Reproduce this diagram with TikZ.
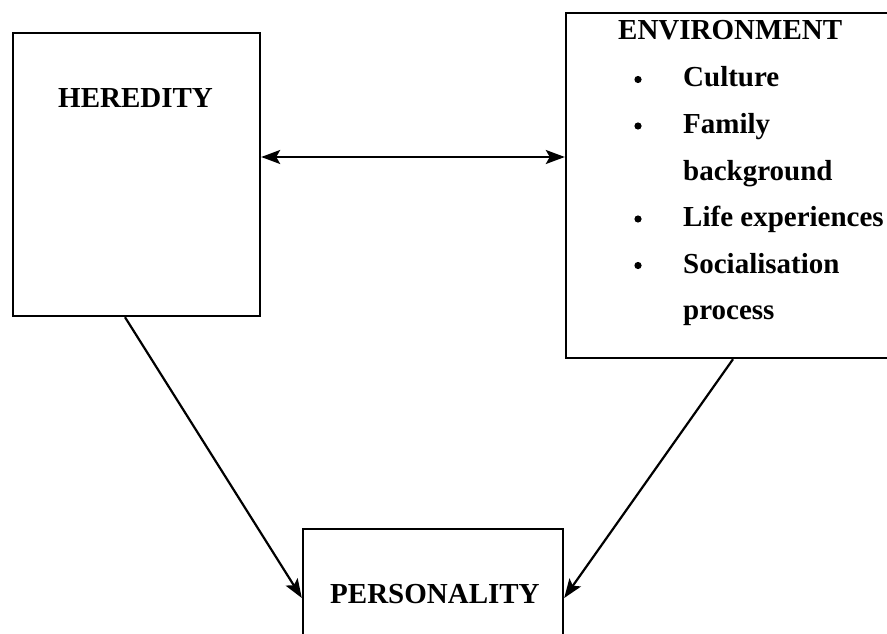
\documentclass[tikz,border=0pt]{standalone}
\usepackage{fontspec}
\setmainfont{Liberation Serif}
\usetikzlibrary{arrows.meta}
\tikzset{
  box/.style={draw, line width=2.4pt, rectangle, inner sep=0pt},
  lbl/.style={anchor=base west, inner sep=0pt, font=\fontsize{29}{32}\selectfont\bfseries},
  tip/.style={Stealth[length=19pt,width=14pt,inset=4pt]},
  conn/.style={line width=2.2pt, -{Stealth[length=19pt,width=14pt,inset=4pt]}},
  dconn/.style={line width=2.2pt, {Stealth[length=19pt,width=14pt,inset=4pt]}-{Stealth[length=19pt,width=14pt,inset=4pt]}},
}
\begin{document}
\begin{tikzpicture}[x=1pt,y=-1pt]
\useasboundingbox (0,0) rectangle (887,634);
\clip (0,0) rectangle (887,634);
\fill[white] (0,0) rectangle (887,634);
% boxes
\node[box, minimum width=247pt, minimum height=283pt] (hered) at (136.5,174.5) {};
\node[box, minimum width=326pt, minimum height=345pt] (env) at (729,185.5) {};
\node[box, minimum width=260pt, minimum height=121pt] (pers) at (433,589.5) {};
% texts
\node[lbl] (tH) at (58,107) {HEREDITY};
\node[lbl] (tP) at (330,603) {PERSONALITY};
\node[lbl] (tE) at (618,40) {ENVIRONMENT};
\node[lbl] (i1) at (683,87) {Culture};
\node[lbl] (i2) at (683,133.5) {Family};
\node[lbl] (i2b) at (683,180) {background};
\node[lbl] (i3) at (683,226.5) {Life experiences};
\node[lbl] (i4) at (683,273) {Socialisation};
\node[lbl] (i4b) at (683,319.5) {process};
% bullets
\foreach \yy in {87,133.5,226.5,273} \fill (638,\yy-7.5) circle (3.6pt);
% connectors
\coordinate (m) at (0,157);
\draw[dconn] (hered.east |- m) -- (env.west |- m);
\draw[conn] ([xshift=-11.5pt]hered.south) -- ([yshift=-8.5pt]pers.west);
\draw[conn] ([xshift=4pt]env.south) -- ([yshift=-8.5pt]pers.east);
\end{tikzpicture}
\end{document}
